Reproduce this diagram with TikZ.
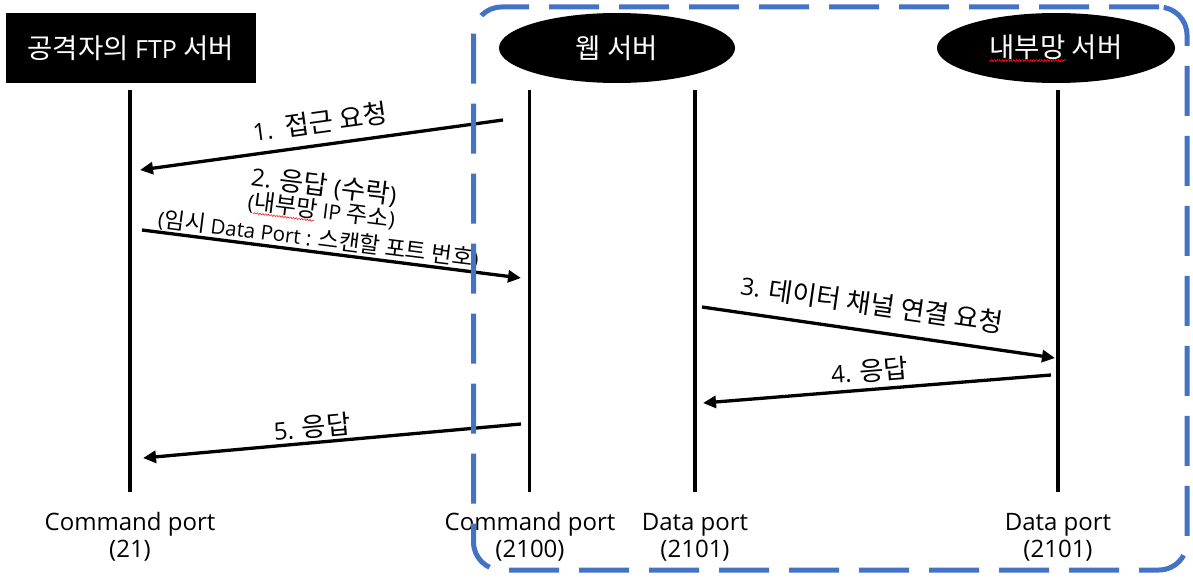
\documentclass[tikz,border=0pt]{standalone}
\usepackage{fontspec}
\setmainfont{Open Sans}
\newfontfamily\kr[Scale=1.1]{Noto Sans CJK KR}
\usetikzlibrary{arrows.meta,shapes.geometric}
\definecolor{zoneblue}{HTML}{4472C4}
\newcommand{\spellwave}[1]{\setbox0\hbox{#1}\rlap{\textcolor{red}{\hbox to \wd0{\leaders\hbox{\rule[-4.2pt]{0.7pt}{0.9pt}\rule[-3.6pt]{0.7pt}{0.9pt}\rule[-3.0pt]{0.7pt}{0.9pt}\rule[-3.6pt]{0.7pt}{0.9pt}}\hfill}}}\box0\relax}
\tikzset{
  hdrbox/.style={fill=black, text=white, minimum width=250pt, minimum height=70pt, inner sep=0pt, font=\fontsize{25}{30}\selectfont},
  hdrell/.style={ellipse, fill=black, text=white, minimum height=70pt, inner sep=0pt, font=\fontsize{25}{30}\selectfont},
  life/.style={line width=3.4pt},
  msg/.style={line width=3.3pt, -{Triangle[length=13pt,width=12pt]}},
  lbl/.style={font=\fontsize{24}{28}\selectfont, inner sep=0pt},
  lblsmall/.style={font=\fontsize{21}{24}\selectfont, inner sep=0pt},
  lblmid/.style={font=\fontsize{20.5}{24}\selectfont, inner sep=0pt},
  portlbl/.style={font=\fontsize{24}{28}\selectfont, anchor=base, inner sep=0pt},
  zone/.style={draw=zoneblue, line width=5pt, rounded corners=28pt, dash pattern=on 50pt off 20pt, inner sep=0pt}
}
\begin{document}
\begin{tikzpicture}[x=1pt,y=-1pt]
\useasboundingbox (0,0) rectangle (1193,578);
% headers
\node[hdrbox] (att) at (130.7,48) {{\kr 공격자의} FTP {\kr 서버}};
\node[hdrell, minimum width=236pt] (web) at (617,48) {\kr 웹 서버};
\node[hdrell, minimum width=238pt] (int) at (1056,48) {\kr\spellwave{내부망} 서버};
% lifelines
\coordinate (l1t) at (130,89.5);   \coordinate (l1b) at (130,492);
\coordinate (l2t) at (529.5,89.5); \coordinate (l2b) at (529.5,492);
\coordinate (l3t) at (695,89.5);   \coordinate (l3b) at (695,492);
\coordinate (l4t) at (1058,89.5);  \coordinate (l4b) at (1058,492);
\draw[life] (l1t) -- (l1b);
\draw[life] (l2t) -- (l2b);
\draw[life] (l3t) -- (l3b);
\draw[life] (l4t) -- (l4b);
% message end points
\coordinate (a1s) at (503,120);  \coordinate (a1e) at (140,170);
\coordinate (a2s) at (142,230);  \coordinate (a2e) at (521,278);
\coordinate (a3s) at (702,307);  \coordinate (a3e) at (1055,358);
\coordinate (a4s) at (1051,375); \coordinate (a4e) at (703,403);
\coordinate (a5s) at (521,424);  \coordinate (a5e) at (143,458);
\draw[msg] (a1s) -- (a1e);
\draw[msg] (a2s) -- (a2e);
\draw[msg] (a3s) -- (a3e);
\draw[msg] (a4s) -- (a4e);
\draw[msg] (a5s) -- (a5e);
% labels
\node[lbl, rotate=7.8] (m1) at (320,122) {1.\ \ {\kr 접근 요청}};
\node[lbl, rotate=-7.2] (m2a) at (324,186) {2. {\kr 응답} ({\kr 수락})};
\node[lblsmall, rotate=-7.2] (m2b) at (321.5,211) {({\kr\spellwave{내부망}} IP {\kr 주소})};
\node[lblmid, rotate=-7.2] (m2c) at (318.5,239) {({\kr 임시} Data Port : {\kr 스캔할 포트 번호})};
\node[lbl, rotate=-8.2] (m3) at (872,304) {3. {\kr 데이터 채널 연결 요청}};
\node[lbl, rotate=4.6] (m4) at (869.5,371) {4. {\kr 응답}};
\node[lbl, rotate=5.1] (m5) at (312,427) {5. {\kr 응답}};
% port labels
\node[portlbl] (p1) at (130,530) {Command port};
\node[portlbl] (p1n) at (130,557) {(21)};
\node[portlbl] (p2) at (530,530) {Command port};
\node[portlbl] (p2n) at (530,557) {(2100)};
\node[portlbl] (p3) at (695,530) {Data port};
\node[portlbl] (p3n) at (695,557) {(2101)};
\node[portlbl] (p4) at (1058,530) {Data port};
\node[portlbl] (p4n) at (1058,557) {(2101)};
% internal zone
\node[zone, minimum width=713.5pt, minimum height=563pt] (zone) at (830.25,288.5) {};
\end{tikzpicture}
\end{document}
